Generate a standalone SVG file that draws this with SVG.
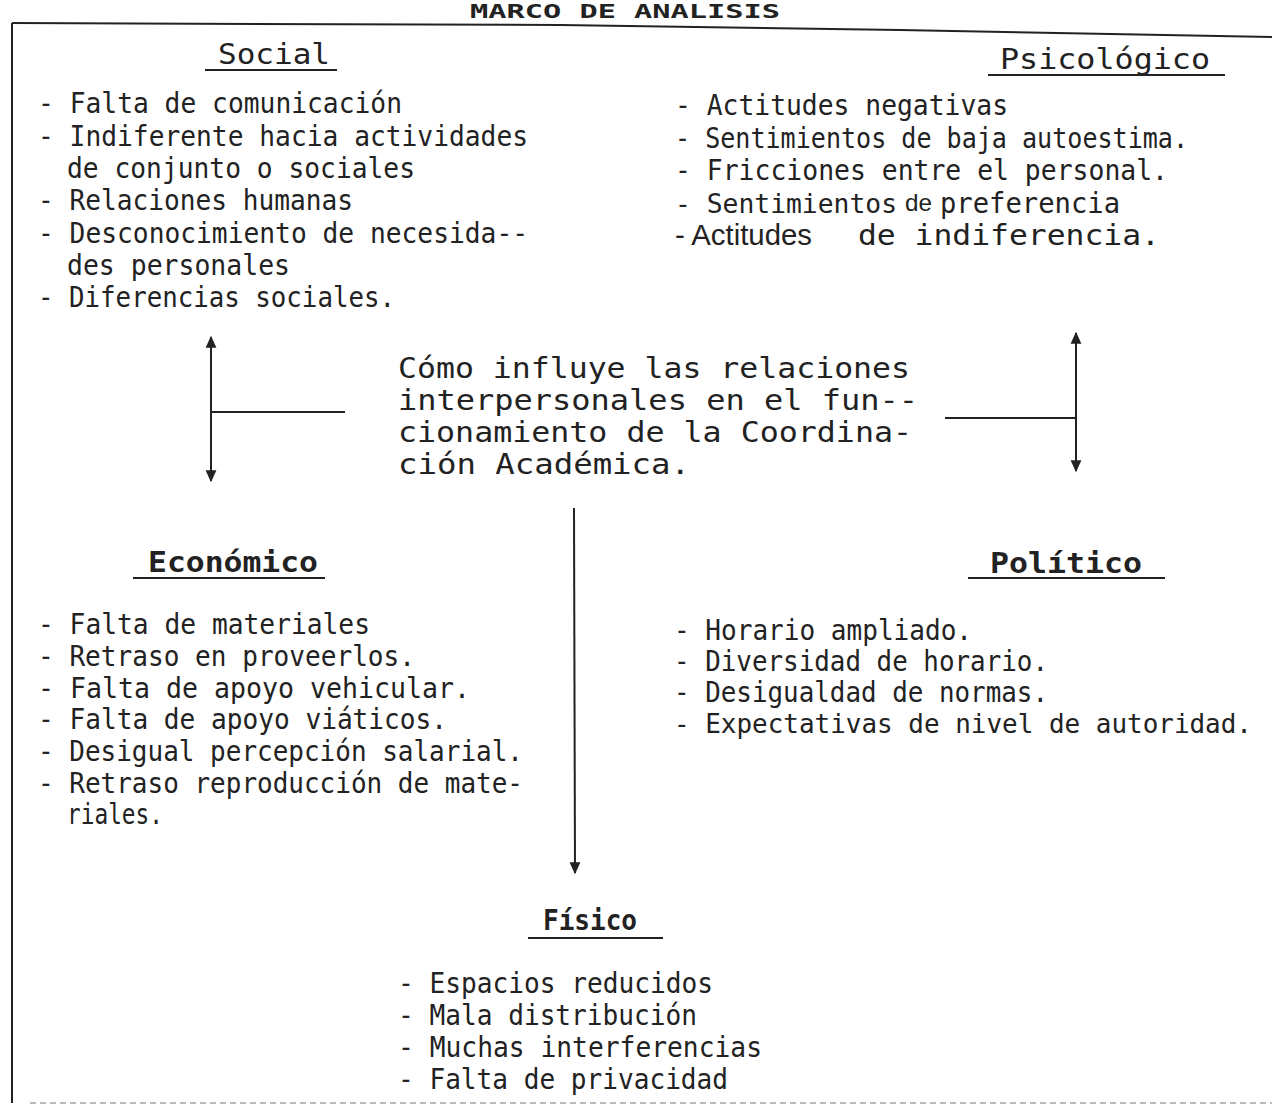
<svg xmlns="http://www.w3.org/2000/svg" width="1272" height="1110" viewBox="0 0 1272 1110">
<defs>
<style>
text{font-family:"DejaVu Sans Mono","Liberation Mono",monospace;font-size:29px;fill:#222}
.h{font-size:29px}
.b{font-weight:bold}
.t{font-size:20px;font-weight:bold}
.ul{stroke:#222;stroke-width:2;fill:none}
.ln{stroke:#222;stroke-width:2;fill:none}
.nar{font-family:"Liberation Sans","DejaVu Sans",sans-serif}
</style>
<marker id="ah" viewBox="0 0 10 10" refX="9" refY="5" markerWidth="13" markerHeight="12" markerUnits="userSpaceOnUse" orient="auto-start-reverse">
<path d="M0,0.5 L10,5 L0,9.5 Z" fill="#222"/>
</marker>
</defs>
<rect width="1272" height="1110" fill="#fff"/>
<g id="frame">
<text x="470" y="18" textLength="310" lengthAdjust="spacingAndGlyphs" class="t">MARCO DE ANALISIS</text>
<polyline points="12,23 560,25 900,30 1272,37" class="ln"/>
<line x1="12" y1="23" x2="12" y2="1103" class="ln"/>
<line x1="30" y1="1103" x2="1272" y2="1103" stroke="#bbb" stroke-width="2" stroke-dasharray="6,4"/>
</g>
<g id="social">
<text x="218" y="64" textLength="112" lengthAdjust="spacingAndGlyphs" class="h">Social</text>
<line x1="205" y1="70" x2="337" y2="70" class="ul"/>
<text x="38" y="113" textLength="364" lengthAdjust="spacingAndGlyphs">- Falta de comunicación</text>
<text x="38" y="146" textLength="490" lengthAdjust="spacingAndGlyphs">- Indiferente hacia actividades</text>
<text x="67" y="178" textLength="348" lengthAdjust="spacingAndGlyphs">de conjunto o sociales</text>
<text x="38" y="210" textLength="315" lengthAdjust="spacingAndGlyphs">- Relaciones humanas</text>
<text x="38" y="243" textLength="490" lengthAdjust="spacingAndGlyphs">- Desconocimiento de necesida--</text>
<text x="67" y="275" textLength="223" lengthAdjust="spacingAndGlyphs">des personales</text>
<text x="38" y="307" textLength="357" lengthAdjust="spacingAndGlyphs">- Diferencias sociales.</text>
</g>
<g id="psicologico">
<text x="1000" y="69" textLength="210" lengthAdjust="spacingAndGlyphs" class="h">Psicológico</text>
<line x1="988" y1="75" x2="1225" y2="75" class="ul"/>
<text x="675" y="115" textLength="333" lengthAdjust="spacingAndGlyphs">- Actitudes negativas</text>
<text x="675" y="148" textLength="513" lengthAdjust="spacingAndGlyphs">- Sentimientos de baja autoestima.</text>
<text x="675" y="180" textLength="493" lengthAdjust="spacingAndGlyphs">- Fricciones entre el personal.</text>
<text x="675" y="213" textLength="222" lengthAdjust="spacingAndGlyphs" style="font-size:26px">- Sentimientos</text>
<text x="905" y="211" textLength="27" lengthAdjust="spacingAndGlyphs" class="nar" style="font-size:24px">de</text>
<text x="940" y="213" textLength="180" lengthAdjust="spacingAndGlyphs">preferencia</text>
<text x="675" y="245" textLength="137" lengthAdjust="spacingAndGlyphs" class="nar">- Actitudes</text>
<text x="858" y="245" textLength="302" lengthAdjust="spacingAndGlyphs">de indiferencia.</text>
</g>
<g id="centro">
<text x="398" y="378" textLength="512" lengthAdjust="spacingAndGlyphs">Cómo influye las relaciones</text>
<text x="398" y="410" textLength="520" lengthAdjust="spacingAndGlyphs">interpersonales en el fun--</text>
<text x="398" y="442" textLength="514" lengthAdjust="spacingAndGlyphs">cionamiento de la Coordina-</text>
<text x="398" y="474" textLength="292" lengthAdjust="spacingAndGlyphs">ción Académica.</text>
</g>
<g id="economico">
<text x="148" y="572" textLength="170" lengthAdjust="spacingAndGlyphs" class="h b">Económico</text>
<line x1="133" y1="578" x2="325" y2="578" class="ul"/>
<text x="38" y="634" textLength="332" lengthAdjust="spacingAndGlyphs">- Falta de materiales</text>
<text x="38" y="666" textLength="377" lengthAdjust="spacingAndGlyphs">- Retraso en proveerlos.</text>
<text x="38" y="698" textLength="432" lengthAdjust="spacingAndGlyphs">- Falta de apoyo vehicular.</text>
<text x="38" y="729" textLength="409" lengthAdjust="spacingAndGlyphs">- Falta de apoyo viáticos.</text>
<text x="38" y="761" textLength="485" lengthAdjust="spacingAndGlyphs">- Desigual percepción salarial.</text>
<text x="38" y="793" textLength="485" lengthAdjust="spacingAndGlyphs">- Retraso reproducción de mate-</text>
<text x="67" y="824" textLength="96" lengthAdjust="spacingAndGlyphs">riales.</text>
</g>
<g id="politico">
<text x="990" y="573" textLength="152" lengthAdjust="spacingAndGlyphs" class="h b">Político</text>
<line x1="968" y1="578" x2="1165" y2="578" class="ul"/>
<text x="674" y="640" textLength="298" lengthAdjust="spacingAndGlyphs">- Horario ampliado.</text>
<text x="674" y="671" textLength="374" lengthAdjust="spacingAndGlyphs">- Diversidad de horario.</text>
<text x="674" y="702" textLength="374" lengthAdjust="spacingAndGlyphs">- Desigualdad de normas.</text>
<text x="674" y="733" textLength="578" lengthAdjust="spacingAndGlyphs" style="font-size:26px">- Expectativas de nivel de autoridad.</text>
</g>
<g id="fisico">
<text x="543" y="930" textLength="94" lengthAdjust="spacingAndGlyphs" class="h b">Físico</text>
<line x1="528" y1="938" x2="663" y2="938" class="ul"/>
<text x="398" y="993" textLength="315" lengthAdjust="spacingAndGlyphs">- Espacios reducidos</text>
<text x="398" y="1025" textLength="299" lengthAdjust="spacingAndGlyphs">- Mala distribución</text>
<text x="398" y="1057" textLength="364" lengthAdjust="spacingAndGlyphs">- Muchas interferencias</text>
<text x="398" y="1089" textLength="330" lengthAdjust="spacingAndGlyphs">- Falta de privacidad</text>
</g>
<g id="connectors">
<line x1="211" y1="337" x2="211" y2="481" class="ln" marker-start="url(#ah)" marker-end="url(#ah)"/>
<line x1="211" y1="412" x2="345" y2="412" class="ln"/>
<line x1="1076" y1="333" x2="1076" y2="471" class="ln" marker-start="url(#ah)" marker-end="url(#ah)"/>
<line x1="945" y1="418" x2="1076" y2="418" class="ln"/>
<line x1="574" y1="508" x2="575" y2="873" class="ln" marker-end="url(#ah)"/>
</g>
</svg>
